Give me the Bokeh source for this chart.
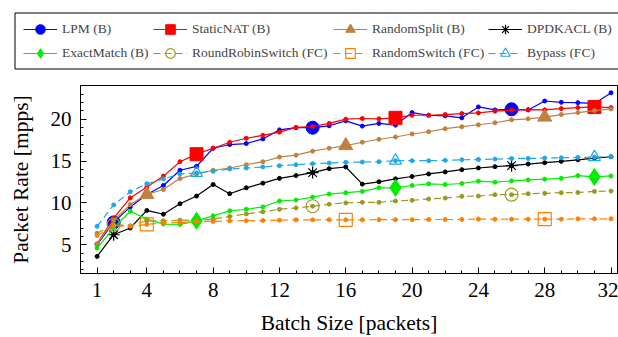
from bokeh.plotting import figure
from bokeh.models import Legend, LegendItem, FixedTicker, Range1d, BoxAnnotation
from bokeh.layouts import column
from bokeh.embed import file_html
from bokeh.resources import INLINE

batch = list(range(1, 33))

lpm = [5.03, 7.67, 9.52, 11.0, 12.08, 13.9, 14.37, 16.53, 16.97, 17.09, 17.64, 18.72,
       18.98, 18.98, 19.21, 19.8, 19.17, 19.49, 19.29, 20.79, 20.47, 20.4, 20.16, 21.46,
       21.1, 21.18, 21.1, 22.17, 22.01, 21.97, 21.85, 23.15]
static_nat = [5.1, 8.18, 10.6, 11.9, 13.2, 14.92, 15.82, 16.53, 17.24, 17.72, 18.07, 18.45,
              19.02, 19.1, 19.49, 20.0, 20.08, 20.04, 20.16, 20.47, 20.47, 20.55, 20.67, 20.75,
              20.95, 21.07, 21.14, 21.12, 21.26, 21.38, 21.46, 21.38]
random_split = [5.1, 7.9, 9.8, 11.0, 11.6, 12.9, 13.45, 13.9, 14.17, 14.56, 14.92, 15.47,
                15.7, 16.18, 16.53, 16.85, 17.24, 17.6, 17.87, 18.23, 18.5, 18.86, 19.1, 19.33,
                19.57, 19.92, 20.04, 20.25, 20.55, 20.79, 21.03, 21.22]
dpdk_acl = [3.61, 6.2, 7.0, 9.1, 8.65, 9.9, 10.82, 12.2, 11.1, 11.8, 12.36, 12.93,
            13.26, 13.62, 14.09, 14.29, 12.24, 12.52, 12.87, 13.15, 13.46, 13.7, 13.97, 14.17,
            14.33, 14.45, 14.64, 14.8, 14.96, 15.15, 15.35, 15.51]
exact_match = [4.6, 7.0, 9.0, 8.06, 7.47, 7.43, 7.86, 8.46, 9.05, 9.24, 9.52, 10.23,
               10.35, 10.7, 11.06, 11.22, 11.37, 11.8, 11.8, 12.08, 12.28, 12.2, 12.32, 12.6,
               12.48, 12.63, 12.75, 12.83, 12.93, 13.26, 13.1, 13.22]
rr_switch = [6.37, 7.4, 7.27, 7.86, 7.86, 7.94, 7.9, 8.06, 8.38, 8.69, 8.93, 9.24,
             9.4, 9.6, 9.84, 10.0, 10.07, 10.07, 10.23, 10.31, 10.47, 10.58, 10.78, 10.82,
             10.98, 10.98, 11.1, 11.14, 11.22, 11.24, 11.37, 11.41]
random_switch = [6.1, 7.27, 7.2, 7.43, 7.63, 7.67, 7.75, 7.79, 7.86, 7.88, 7.9, 7.94,
                 7.98, 7.98, 7.98, 7.98, 7.98, 8.0, 8.0, 8.0, 8.02, 8.02, 8.02, 8.06,
                 8.06, 8.06, 8.06, 8.06, 8.06, 8.1, 8.1, 8.1]
bypass = [7.2, 9.76, 11.33, 12.28, 12.87, 13.46, 13.58, 13.78, 14.05, 14.17, 14.29, 14.45,
          14.56, 14.68, 14.76, 14.84, 14.88, 14.92, 15.04, 15.04, 15.04, 15.08, 15.15, 15.19,
          15.23, 15.31, 15.31, 15.35, 15.39, 15.43, 15.47, 15.51]

marks_a = [2, 14, 26]
marks_b = [7, 19, 31]
marks_c = [4, 16, 28]

x_ticks = [1, 4, 8, 12, 16, 20, 24, 28, 32]
y_ticks = [5, 10, 15, 20]

FONT = "Liberation Serif"

series = [
    ("LPM (B)", lpm, "#0000FF", "solid", "circle", True, marks_a, 13),
    ("StaticNAT (B)", static_nat, "#FF0000", "solid", "square", True, marks_b, 13),
    ("RandomSplit (B)", random_split, "#BF8040", "solid", "triangle", True, marks_c, 14),
    ("DPDKACL (B)", dpdk_acl, "#000000", "solid", "asterisk", False, marks_a, 12),
    ("ExactMatch (B)", exact_match, "#00EE00", "solid", "diamond", True, marks_b, 17),
    ("RoundRobinSwitch (FC)", rr_switch, "#999922", "7 4", "circle", False, marks_a, 13),
    ("RandomSwitch (FC)", random_switch, "#FF8000", "7 4", "square", False, marks_c, 13),
    ("Bypass (FC)", bypass, "#1EA8E8", "7 4", "triangle", False, marks_b, 12),
]


def draw_series(fig, name, vals, color, dash, marker, filled, marks, size, dots=True):
    lr = fig.line(batch, vals, line_color=color, line_width=1.2, line_dash=dash)
    if dots:
        fig.scatter(batch, vals, size=4, marker="circle", fill_color=color, line_color=color)
    my = [vals[batch.index(m)] for m in marks]
    if filled:
        mr = fig.scatter(marks, my, size=size, marker=marker, fill_color=color,
                         line_color=color, line_width=1)
    else:
        mr = fig.scatter(marks, my, size=size, marker=marker, fill_alpha=0,
                         line_color=color, line_width=1.2)
    return lr, mr


# main plot
p = figure(width=618, height=253, x_range=Range1d(0, 32.39), y_range=Range1d(1.57, 24.02),
           output_backend="svg", toolbar_location=None,
           min_border_left=80, min_border_right=1, min_border_top=1, min_border_bottom=62)
p.xgrid.visible = False
p.ygrid.visible = False
p.outline_line_color = "black"
p.outline_line_width = 1
p.frame_align = False

for s in series:
    draw_series(p, *s)

for ax in (p.xaxis[0], p.yaxis[0]):
    ax.major_tick_in = 6
    ax.major_tick_out = 0
    ax.minor_tick_in = 3
    ax.minor_tick_out = 0
    ax.axis_line_color = "black"
    ax.major_tick_line_color = "black"
    ax.minor_tick_line_color = "black"
    ax.major_label_text_font = FONT
    ax.major_label_text_font_size = "21px"
    ax.major_label_text_color = "black"
    ax.axis_label_text_font = FONT
    ax.axis_label_text_font_size = "21.5px"
    ax.axis_label_text_font_style = "normal"
    ax.axis_label_text_color = "black"

p.xaxis[0].ticker = FixedTicker(ticks=x_ticks, minor_ticks=batch)
p.yaxis[0].ticker = FixedTicker(ticks=y_ticks, minor_ticks=list(range(2, 25)))
p.xaxis[0].axis_label = "Batch Size [packets]"
p.yaxis[0].axis_label = "Packet Rate [mpps]"
p.xaxis[0].major_label_standoff = 9
p.yaxis[0].major_label_standoff = 9
p.xaxis[0].axis_label_standoff = 11
p.yaxis[0].axis_label_standoff = 15

# legend strip above the plot (pixel-like ranges, y downwards)
lf = figure(width=618, height=84, x_range=Range1d(0, 618), y_range=Range1d(84, 0),
            output_backend="svg", toolbar_location=None,
            x_axis_location=None, y_axis_location=None,
            min_border_left=0, min_border_right=0, min_border_top=0, min_border_bottom=0)
lf.xgrid.visible = False
lf.ygrid.visible = False
lf.outline_line_color = None
lf.frame_align = False

lf.add_layout(BoxAnnotation(left=14.5, right=640, top=12.5, bottom=68.5,
                            fill_alpha=0, line_color="black", line_width=1, line_alpha=1))

items = []
for s in series:
    lr, mr = draw_series(lf, *s, dots=False)
    lr.visible = False
    mr.visible = False
    items.append(LegendItem(label=s[0], renderers=[lr, mr]))

col_x = [23, 153, 333, 488]
for c in range(4):
    leg = Legend(items=[items[c], items[c + 4]], orientation="vertical",
                 location=(col_x[c], 19),
                 label_text_font=FONT, label_text_font_size="13.5px",
                 glyph_width=34, glyph_height=24, label_standoff=5, spacing=0,
                 padding=0, margin=0, border_line_color=None,
                 background_fill_alpha=0, inactive_fill_alpha=0)
    lf.add_layout(leg)

layout = column(lf, p, spacing=0)
open("out.html", "w").write(file_html(layout, INLINE))
